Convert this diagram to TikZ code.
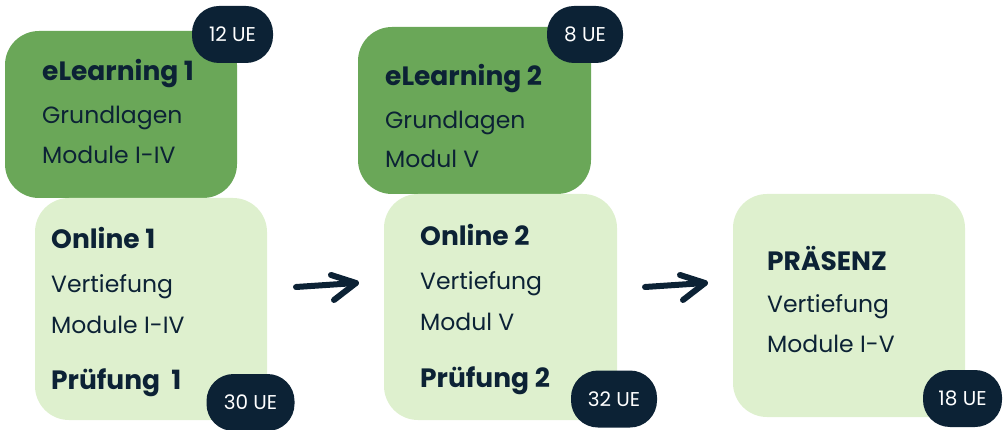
\documentclass[tikz,border=0pt]{standalone}
\usepackage{fontspec}
\setmainfont{Poppins}
\usetikzlibrary{calc}
\definecolor{darkgreen}{HTML}{6AA758}
\definecolor{lightgreen}{HTML}{DEF0CE}
\definecolor{navy}{HTML}{0C2235}
\tikzset{
  darkbox/.style={fill=darkgreen, rounded corners=34pt, inner sep=0pt},
  lightbox/.style={fill=lightgreen, rounded corners=34pt, inner sep=0pt},
  badge/.style={fill=navy, rounded corners=27pt, inner sep=0pt, minimum height=57pt, text=white, font=\fontsize{20}{24}\selectfont},
  head/.style={anchor=base west, inner sep=0pt, text=navy, font=\fontsize{26.5}{30}\selectfont\bfseries},
  body/.style={anchor=base west, inner sep=0pt, text=navy, font=\fontsize{23.5}{26}\selectfont},
  handarrow/.style={draw=navy, line width=6pt, line cap=round, line join=round}
}
\begin{document}
\begin{tikzpicture}[x=1pt,y=-1pt]
\useasboundingbox (0,0) rectangle (1008,430);
% boxes
\node[darkbox, minimum width=232pt, minimum height=167pt] (el1) at (121,114.5) {};
\node[lightbox, minimum width=232pt, minimum height=222pt] (on1) at (151,309) {};
\node[darkbox, minimum width=233pt, minimum height=167pt] (el2) at (474.5,110.5) {};
\node[lightbox, minimum width=233pt, minimum height=226pt] (on2) at (500.5,307) {};
\node[lightbox, minimum width=232pt, minimum height=223pt] (pr) at (849,305.5) {};
% texts
\node[head] (el1a) at (42,81) {eLearning 1};
\node[body] (el1b) at (42,124) {Grundlagen};
\node[body] (el1c) at (42,164) {Module I-IV};
\node[head] (on1a) at (51,248) {Online 1};
\node[body] (on1b) at (51,292) {Vertiefung};
\node[body] (on1c) at (51,333) {Module I-IV};
\node[head] (on1d) at (51,389) {Prüfung\ \ 1};
\node[head] (el2a) at (385,86) {eLearning 2};
\node[body] (el2b) at (385,129) {Grundlagen};
\node[body] (el2c) at (385,168) {Modul V};
\node[head] (on2a) at (420,245) {Online 2};
\node[body] (on2b) at (420,289) {Vertiefung};
\node[body] (on2c) at (420,330) {Modul V};
\node[head] (on2d) at (420,387) {Prüfung 2};
\node[head] (pra) at (767,270) {PRÄSENZ};
\node[body] (prb) at (767,312) {Vertiefung};
\node[body] (prc) at (767,352) {Module I-V};
% badges
\node[badge, minimum width=81pt] (b1) at (232.5,34.5) {12 UE};
\node[badge, minimum width=76pt] (b2) at (585,34.5) {8 UE};
\node[badge, minimum width=88pt] (b3) at (250.5,402.5) {30 UE};
\node[badge, minimum width=86pt] (b4) at (614,399) {32 UE};
\node[badge, minimum width=79pt] (b5) at (962.5,398.5) {18 UE};
% arrows
\coordinate (a1s) at (296,287);
\coordinate (a1e) at (356,283);
\coordinate (a2s) at (645,287);
\coordinate (a2e) at (705,283);
\draw[handarrow] (a1s) -- (a1e);
\draw[handarrow] ($(a1e)+(-25,-8)$) -- (a1e) -- ($(a1e)+(-22,17)$);
\draw[handarrow] (a2s) -- (a2e);
\draw[handarrow] ($(a2e)+(-25,-8)$) -- (a2e) -- ($(a2e)+(-22,17)$);
\end{tikzpicture}
\end{document}
